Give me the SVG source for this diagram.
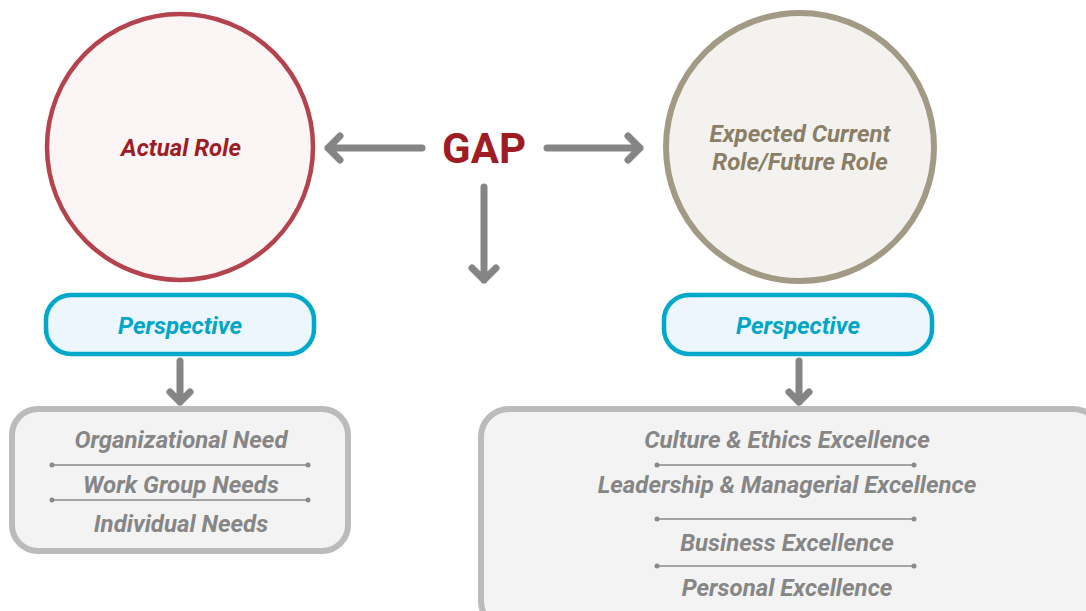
<svg xmlns="http://www.w3.org/2000/svg" width="1086" height="611" viewBox="0 0 1086 611">
<style>
.t{font-family:Roboto,"Liberation Sans",sans-serif;font-weight:bold;font-style:italic;text-anchor:middle}
.item{fill:#868686;font-size:24px}
.persp{fill:#00a6c8;font-size:24px}
.conn{stroke:#858585;stroke-width:7;stroke-linecap:round;stroke-linejoin:round;fill:none}
.div{stroke:#8a8a8a;stroke-width:1.5}
.dot{fill:#8a8a8a}
.pbox{fill:#eef6fd;stroke:#00a9cc;stroke-width:4.5}
.lbox{fill:#f3f3f3;stroke:#bcbbbb;stroke-width:6}
</style>
<rect width="1086" height="611" fill="#ffffff"/>
<g id="actual-role">
<circle cx="180" cy="147" r="133" fill="#fcf5f5" stroke="#b5434e" stroke-width="4.5"/>
<text class="t" x="181" y="156" font-size="24" fill="#a01c24">Actual Role</text>
</g>
<g id="expected-role">
<circle cx="800" cy="147" r="134" fill="#f3f2ef" stroke="#a39a85" stroke-width="6"/>
<text class="t" x="800" y="142" font-size="24" fill="#8a7f66">Expected Current</text>
<text class="t" x="800" y="170" font-size="24" fill="#8a7f66">Role/Future Role</text>
</g>
<g id="gap">
<text x="484" y="163" font-family="Roboto,'Liberation Sans',sans-serif" font-weight="bold" font-size="42" fill="#a01c24" text-anchor="middle">GAP</text>
</g>
<g id="perspective-left">
<rect class="pbox" x="46" y="295" width="268" height="59" rx="25"/>
<text class="t persp" x="180" y="334">Perspective</text>
</g>
<g id="perspective-right">
<rect class="pbox" x="664" y="295" width="268" height="59" rx="25"/>
<text class="t persp" x="798" y="334">Perspective</text>
</g>
<g id="needs">
<rect class="lbox" x="12" y="409" width="336" height="142" rx="26"/>
<text class="t item" x="181" y="448">Organizational Need</text>
<line class="div" x1="52" y1="465" x2="308" y2="465"/>
<circle class="dot" cx="52" cy="465" r="2.5"/><circle class="dot" cx="308" cy="465" r="2.5"/>
<text class="t item" x="181" y="493">Work Group Needs</text>
<line class="div" x1="52" y1="500" x2="308" y2="500"/>
<circle class="dot" cx="52" cy="500" r="2.5"/><circle class="dot" cx="308" cy="500" r="2.5"/>
<text class="t item" x="181" y="532">Individual Needs</text>
</g>
<g id="excellence">
<rect class="lbox" x="481" y="409" width="620" height="220" rx="28"/>
<text class="t item" x="787" y="448">Culture &amp; Ethics Excellence</text>
<line class="div" x1="657" y1="465" x2="914" y2="465"/>
<circle class="dot" cx="657" cy="465" r="2.5"/><circle class="dot" cx="914" cy="465" r="2.5"/>
<text class="t item" x="787" y="493">Leadership &amp; Managerial Excellence</text>
<line class="div" x1="657" y1="519" x2="914" y2="519"/>
<circle class="dot" cx="657" cy="519" r="2.5"/><circle class="dot" cx="914" cy="519" r="2.5"/>
<text class="t item" x="787" y="551">Business Excellence</text>
<line class="div" x1="657" y1="566" x2="914" y2="566"/>
<circle class="dot" cx="657" cy="566" r="2.5"/><circle class="dot" cx="914" cy="566" r="2.5"/>
<text class="t item" x="787" y="596">Personal Excellence</text>
</g>
<g id="connectors">
<path class="conn" d="M422 148H328M340 136L328 148L340 160"/>
<path class="conn" d="M547 148H640M628 136L640 148L628 160"/>
<path class="conn" d="M484 187V280M472 268L484 280L496 268"/>
<path class="conn" d="M180 361V402M170 392L180 402L190 392"/>
<path class="conn" d="M799 361V402M789 392L799 402L809 392"/>
</g>
</svg>
